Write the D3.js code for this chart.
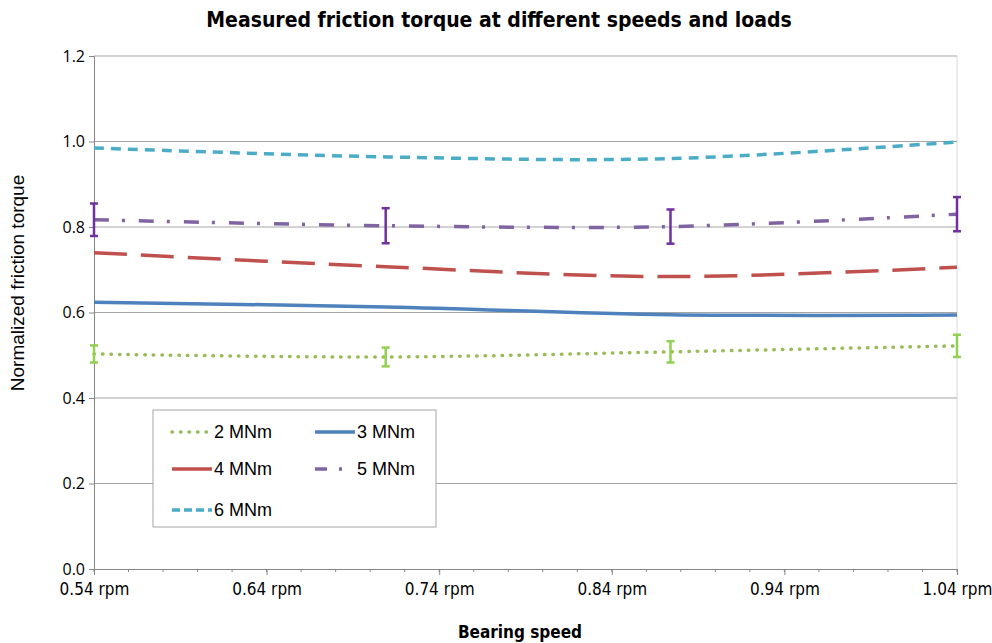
<!DOCTYPE html>
<html>
<head>
<meta charset="utf-8">
<script src="https://cdn.jsdelivr.net/npm/d3@7"></script>
<style>
  body { margin: 0; background: #fff; }
  svg text { fill: #000; }
</style>
</head>
<body>
<div id="chart"></div>
<script>
// speeds where the measurements were taken (rpm)
var speeds = [0.54, 0.709, 0.874, 1.04];

var series = ["2 MNm", "3 MNm", "4 MNm", "5 MNm", "6 MNm"];
var torque2 = [0.503, 0.496, 0.508, 0.522];
var torque3 = [0.624, 0.613, 0.595, 0.594];
var torque4 = [0.740, 0.707, 0.684, 0.706];
var torque5 = [0.817, 0.803, 0.801, 0.830];
var torque6 = [0.985, 0.964, 0.960, 0.999];

// error bar half widths
var err2 = [0.020, 0.022, 0.025, 0.026];
var err5 = [0.038, 0.041, 0.040, 0.040];

var xTicks = [0.54, 0.64, 0.74, 0.84, 0.94, 1.04];
var yTicks = [0, 0.2, 0.4, 0.6, 0.8, 1.0, 1.2];

var W = 992, H = 643;
var pLeft = 94, pRight = 957, pTop = 56, pBottom = 569;
var narrow = "'Liberation Sans Narrow', 'DejaVu Sans Condensed', sans-serif";

var svg = d3.select("#chart").append("svg")
  .attr("width", W).attr("height", H);

var x = d3.scaleLinear().domain([0.54, 1.04]).range([pLeft, pRight]);
var y = d3.scaleLinear().domain([0, 1.2]).range([pBottom, pTop]);

// title
svg.append("text")
  .attr("x", 499).attr("y", 27)
  .attr("text-anchor", "middle")
  .style("font-family", narrow)
  .style("font-weight", "bold")
  .style("font-size", "21px")
  .text("Measured friction torque at different speeds and loads");

// plot frame on the right
svg.append("line")
  .attr("x1", pRight).attr("x2", pRight).attr("y1", pTop).attr("y2", pBottom)
  .attr("stroke", "#d9d9d9");

// gridlines
svg.append("g").selectAll("line")
  .data(yTicks.filter(function(d) { return d > 0; }))
  .join("line")
  .attr("x1", pLeft).attr("x2", pRight)
  .attr("y1", function(d) { return y(d); })
  .attr("y2", function(d) { return y(d); })
  .attr("stroke", "#a6a6a6")
  .attr("stroke-width", 1);

// y axis
var yAxis = svg.append("g")
  .attr("transform", "translate(" + pLeft + ",0)")
  .call(d3.axisLeft(y).tickValues(yTicks).tickFormat(d3.format(".1f")).tickSize(5).tickPadding(4));
yAxis.select(".domain").attr("stroke", "#868686");
yAxis.selectAll(".tick line").attr("stroke", "#868686");
yAxis.selectAll("text")
  .style("font-family", "'Open Sans', sans-serif")
  .style("font-size", "16px");

// x axis minor ticks
var minor = d3.range(0.54, 1.0401, 0.02);
svg.append("g").selectAll("line")
  .data(minor)
  .join("line")
  .attr("x1", function(d) { return x(d); })
  .attr("x2", function(d) { return x(d); })
  .attr("y1", pBottom).attr("y2", pBottom + 3)
  .attr("stroke", "#868686");

var xAxis = svg.append("g")
  .attr("transform", "translate(0," + pBottom + ")")
  .call(d3.axisBottom(x).tickValues(xTicks)
    .tickFormat(function(d) { return d3.format(".2f")(d) + " rpm"; })
    .tickSize(6).tickPadding(8));
xAxis.select(".domain").attr("stroke", "#868686");
xAxis.selectAll(".tick line").attr("stroke", "#868686");
xAxis.selectAll("text")
  .style("font-family", narrow)
  .style("font-size", "17px");

// axis titles
svg.append("text")
  .attr("x", 520).attr("y", 638)
  .attr("text-anchor", "middle")
  .style("font-family", narrow)
  .style("font-weight", "bold")
  .style("font-size", "17px")
  .text("Bearing speed");

svg.append("text")
  .attr("transform", "translate(24,283) rotate(-90)")
  .attr("text-anchor", "middle")
  .style("font-family", "'Liberation Sans', Arial, sans-serif")
  .style("font-size", "19px")
  .text("Normalized friction torque");

// series styles
var colors = ["#9bbb59", "#4f81bd", "#c0504d", "#8064a2", "#4bacc6"];
var dashes = ["0.5,8", null, "33,14", "15,13,3,14", "10,7"];
var caps = ["round", "butt", "butt", "butt", "butt"];
var allData = [torque2, torque3, torque4, torque5, torque6];

var line = d3.line()
  .x(function(d, i) { return x(speeds[i]); })
  .y(function(d) { return y(d); })
  .curve(d3.curveCatmullRom.alpha(0.5));

function errorBars(vals, errs, color) {
  var g = svg.append("g").attr("stroke", color).attr("stroke-width", 2.5);
  vals.forEach(function(v, i) {
    var cx = x(speeds[i]);
    g.append("line").attr("x1", cx).attr("x2", cx)
      .attr("y1", y(v - errs[i])).attr("y2", y(v + errs[i]));
    g.append("line").attr("x1", cx - 4).attr("x2", cx + 4)
      .attr("y1", y(v - errs[i])).attr("y2", y(v - errs[i]));
    g.append("line").attr("x1", cx - 4).attr("x2", cx + 4)
      .attr("y1", y(v + errs[i])).attr("y2", y(v + errs[i]));
  });
}

allData.forEach(function(vals, k) {
  svg.append("path")
    .datum(vals)
    .attr("d", line)
    .attr("fill", "none")
    .attr("stroke", colors[k])
    .attr("stroke-width", 3.5)
    .attr("stroke-linecap", caps[k])
    .attr("stroke-dasharray", dashes[k]);
});

errorBars(torque5, err5, "#7030a0");
errorBars(torque2, err2, "#92d050");

// legend
var lg = svg.append("g").attr("transform", "translate(153,410)");
lg.append("rect")
  .attr("width", 283).attr("height", 117)
  .attr("fill", "#fff")
  .attr("stroke", "#a6a6a6");

var legPos = [[19, 22], [162, 22], [19, 59], [162, 59], [19, 100]];
var legDash = ["0.5,8", null, null, "12,12,3,13", "8,4"];
series.forEach(function(name, k) {
  var p = legPos[k];
  lg.append("line")
    .attr("x1", p[0]).attr("x2", p[0] + 40)
    .attr("y1", p[1]).attr("y2", p[1])
    .attr("stroke", colors[k])
    .attr("stroke-width", 3.5)
    .attr("stroke-linecap", caps[k])
    .attr("stroke-dasharray", legDash[k]);
  lg.append("text")
    .attr("x", p[0] + 42).attr("y", p[1] + 6)
    .style("font-family", "'Liberation Sans', Arial, sans-serif")
    .style("font-size", "18px")
    .text(name);
});
</script>
</body>
</html>
